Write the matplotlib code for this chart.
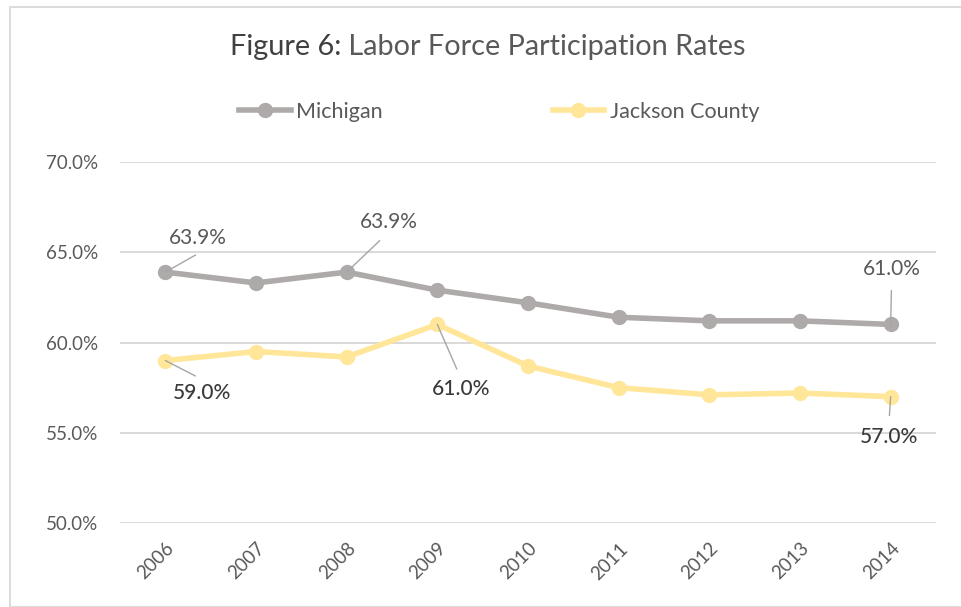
import matplotlib
matplotlib.use("Agg")
import matplotlib.pyplot as plt
from matplotlib.patches import Rectangle
from matplotlib.lines import Line2D

years = ["2006", "2007", "2008", "2009", "2010", "2011", "2012", "2013", "2014"]
michigan = [63.9, 63.3, 63.9, 62.9, 62.2, 61.4, 61.2, 61.2, 61.0]
jackson = [59.0, 59.5, 59.2, 61.0, 58.7, 57.5, 57.1, 57.2, 57.0]
yticks = [50, 55, 60, 65, 70]

# which points get a label, and where the label sits (offset pixels)
mi_labels = {0: (32, 34, 0.68), 2: (42, 50, 0.5), 8: (1, 55, 0.5)}
jc_labels = {0: (37, -32, 0.6), 3: (24, -65, 0.5), 8: (-2, -40, 0.5)}

MI_COL = "#aeaaaa"
JC_COL = "#ffe699"
GRID = "#d9d9d9"
TXT = "#595959"
FONT = ["Lato", "DejaVu Sans"]

plt.rcParams["font.family"] = FONT

fig = plt.figure(figsize=(9.61, 6.07), dpi=100)
ax = fig.add_axes([120 / 961, 1 - 523 / 607, 816 / 961, 361 / 607])

# chart area border
fig.patches.append(Rectangle((10 / 961, 0), 1.0, 1 - 7 / 607, transform=fig.transFigure,
                             fill=False, edgecolor=GRID, linewidth=1.3, zorder=0))

x = list(range(len(years)))
ax.plot(x, michigan, color=MI_COL, lw=4, marker="o", ms=10, label="Michigan", zorder=3)
ax.plot(x, jackson, color=JC_COL, lw=4, marker="o", ms=10, label="Jackson County", zorder=3)

ax.set_xlim(-0.5, len(years) - 0.5)
ax.set_ylim(50, 70)
ax.set_yticks(yticks)
ax.set_yticklabels([f"{v:.1f}%" for v in yticks])
ax.set_xticks(x)
ax.set_xticklabels(years, rotation=45, ha="right", va="top", rotation_mode="anchor")
ax.tick_params(axis="y", length=0, pad=16, labelsize=13.5, labelcolor=TXT)
ax.tick_params(axis="x", length=0, pad=12, labelsize=13.5, labelcolor=TXT)
ax.grid(axis="y", color=GRID, lw=1.4)
ax.set_axisbelow(True)
for s in ax.spines.values():
    s.set_visible(False)

for i, (dx, dy, rx) in mi_labels.items():
    ax.annotate(f"{michigan[i]:.1f}%", (i, michigan[i]), xytext=(dx, dy),
                textcoords="offset pixels", ha="center", va="center",
                fontsize=15, color=TXT,
                arrowprops=dict(arrowstyle="-", color="#a6a6a6", lw=1,
                                relpos=(rx, 0), shrinkA=6, shrinkB=0))
for i, (dx, dy, rx) in jc_labels.items():
    ax.annotate(f"{jackson[i]:.1f}%", (i, jackson[i]), xytext=(dx, dy),
                textcoords="offset pixels", ha="center", va="center",
                fontsize=15, color="#3a3a3a", fontweight="medium",
                arrowprops=dict(arrowstyle="-", color="#a6a6a6", lw=1,
                                relpos=(rx, 1), shrinkA=6, shrinkB=0))

# legend
handles = [Line2D([], [], color=MI_COL, lw=4, marker="o", ms=10),
           Line2D([], [], color=JC_COL, lw=4, marker="o", ms=10)]
leg = fig.legend(handles, ["Michigan", "Jackson County"], loc="center",
                 bbox_to_anchor=(499 / 961, 1 - 112 / 607), ncol=2, frameon=False,
                 fontsize=15.5, handlelength=2.4, handletextpad=0.25, columnspacing=7.9)
for t in leg.get_texts():
    t.set_color(TXT)

# title in two weights
fig.canvas.draw()
r = fig.canvas.get_renderer()
t1 = fig.text(0, 0, "Figure 6:", fontsize=20.8, color="#404040")
t2 = fig.text(0, 0, " Labor Force Participation Rates", fontsize=20.8, color=TXT)
w1 = t1.get_window_extent(r).width
w2 = t2.get_window_extent(r).width
x0 = 488 - (w1 + w2) / 2
ty = (607 - 47) / 607
t1.set_position((x0 / 961, ty))
t2.set_position(((x0 + w1) / 961, ty))
t1.set_va("center")
t2.set_va("center")

fig.savefig("out.png", dpi=100)
